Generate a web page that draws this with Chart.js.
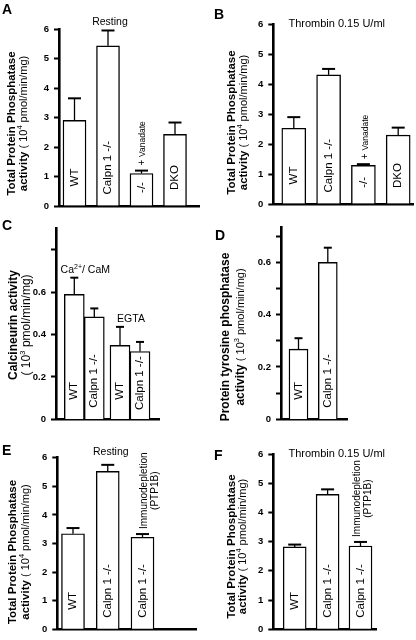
<!DOCTYPE html>
<html>
<head>
<meta charset="utf-8">
<script src="https://cdn.jsdelivr.net/npm/chart.js@4.4.0/dist/chart.umd.min.js"></script>
<style>
  html, body { margin: 0; padding: 0; background: #fff; }
  #fig { position: relative; width: 416px; height: 640px; overflow: hidden; }
  #fig canvas { position: absolute; left: 0; top: 0; }
</style>
</head>
<body>
<div id="fig">
  <canvas id="pA" width="416" height="640"></canvas>
  <canvas id="pB" width="416" height="640"></canvas>
  <canvas id="pC" width="416" height="640"></canvas>
  <canvas id="pD" width="416" height="640"></canvas>
  <canvas id="pE" width="416" height="640"></canvas>
  <canvas id="pF" width="416" height="640"></canvas>
</div>
<script>
// ---- data ----
const labelsA = ['WT', 'Calpn 1 -/-', '-/-', 'DKO'];
const restingA = [2.9, 5.43, 1.1, 2.43];
const restingErrA = [0.75, 0.52, 0.1, 0.4];

const labelsB = ['WT', 'Calpn 1 -/-', '-/-', 'DKO'];
const thrombinB = [2.53, 4.31, 1.29, 2.3];
const thrombinErrB = [0.37, 0.2, 0.04, 0.25];

const groupsC = ['Ca2+/ CaM', 'EGTA'];
const wtC = [0.589, 0.349];
const wtErrC = [0.079, 0.087];
const calpnC = [0.483, 0.32];
const calpnErrC = [0.04, 0.045];

const labelsD = ['WT', 'Calpn 1 -/-'];
const ptpD = [0.268, 0.6];
const ptpErrD = [0.042, 0.056];

const labelsE = ['WT', 'Calpn 1 -/-', 'Calpn 1 -/-'];
const restingE = [3.34, 5.52, 3.22];
const restingErrE = [0.2, 0.23, 0.11];

const labelsF = ['WT', 'Calpn 1 -/-', 'Calpn 1 -/-'];
const thrombinF = [2.82, 4.62, 2.85];
const thrombinErrF = [0.08, 0.17, 0.14];

const ticksTotal = [0, 1, 2, 3, 4, 5, 6];
const tickTextTotal = ['0', '1', '2', '3', '4', '5', '6'];
const ticksC = [0, 0.2, 0.4, 0.6, 0.8];
const tickTextC = ['0', '0.2', '0.4', '0.6', ''];
const ticksD = [0, 0.1, 0.2, 0.3, 0.4, 0.5, 0.6, 0.7];
const tickTextD = ['0', '', '0.2', '', '0.4', '', '0.6', ''];

// ---- drawing helpers ----
const FONT = "'Liberation Sans', Arial, Helvetica, sans-serif";
const f = (size, bold) => (bold ? 'bold ' : '') + size + 'px ' + FONT;

// runs: [text, font, rise]; rotated -90deg (reads bottom to top)
function vText(ctx, runs, cx, cy, anchor) {
  ctx.save();
  ctx.translate(cx, cy);
  ctx.rotate(-Math.PI / 2);
  ctx.textBaseline = 'middle';
  ctx.textAlign = 'left';
  ctx.fillStyle = '#000';
  let w = 0;
  runs.forEach(r => { ctx.font = r[1]; w += ctx.measureText(r[0]).width; });
  let x = anchor === 'start' ? 0 : -w / 2;
  runs.forEach(r => {
    ctx.font = r[1];
    ctx.fillText(r[0], x, -(r[2] || 0));
    x += ctx.measureText(r[0]).width;
  });
  ctx.restore();
  return w;
}

function hText(ctx, runs, cx, y) {
  ctx.save();
  ctx.textBaseline = 'alphabetic';
  ctx.textAlign = 'left';
  ctx.fillStyle = '#000';
  let w = 0;
  runs.forEach(r => { ctx.font = r[1]; w += ctx.measureText(r[0]).width; });
  let x = cx - w / 2;
  runs.forEach(r => {
    ctx.font = r[1];
    ctx.fillText(r[0], x, y - (r[2] || 0));
    x += ctx.measureText(r[0]).width;
  });
  ctx.restore();
}

function textWidth(ctx, s, font) { ctx.font = font; return ctx.measureText(s).width; }

const titleTotal = [
  [['Total Protein Phosphatase', f(11.5, true)]],
  [['activity', f(11.5, true)], [' ( 10', f(11)], ['4', f(7.5), 4], [' pmol/min/mg)', f(11)]],
];

function decoPlugin(p) {
  return {
    id: 'deco',
    afterDatasetsDraw(chart) {
      const ctx = chart.ctx, ys = chart.scales.y;
      ctx.save();
      ctx.strokeStyle = '#000';
      p.series.forEach((s, di) => {
        const meta = chart.getDatasetMeta(di);
        meta.data.forEach((bar, i) => {
          const top = ys.getPixelForValue(s.vals[i] + s.err[i]);
          ctx.lineWidth = 1.3;
          ctx.beginPath(); ctx.moveTo(bar.x, bar.y); ctx.lineTo(bar.x, top); ctx.stroke();
          ctx.lineWidth = 2;
          ctx.beginPath(); ctx.moveTo(bar.x - p.cap / 2, top); ctx.lineTo(bar.x + p.cap / 2, top); ctx.stroke();
          // rotated label inside the bar
          const name = s.names[i];
          const w = textWidth(ctx, name, f(11.5));
          const h = bar.base - bar.y;
          const off = Math.min(Math.max(28, w / 2 + 11), h / 2 + 2);
          vText(ctx, [[name, f(11.5)]], bar.x, bar.base - off);
        });
      });
      // panel letter
      ctx.fillStyle = '#000';
      ctx.font = f(14, true);
      ctx.textBaseline = 'alphabetic';
      ctx.textAlign = 'left';
      ctx.fillText(p.letter[0], p.letter[1], p.letter[2]);
      // y axis title, two lines
      vText(ctx, p.ytitle[0], p.ytitleX[0], p.ytitleY);
      vText(ctx, p.ytitle[1], p.ytitleX[1], p.ytitleY);
      if (p.extra) p.extra(ctx, chart);
      ctx.restore();
    }
  };
}

function errTop(chart, di, i, vals, err) {
  return chart.scales.y.getPixelForValue(vals[i] + err[i]);
}

function makePanel(id, p) {
  const sp = p.spacing;
  const xMin = 1 - (p.firstCenter - p.left) / sp;
  const xMax = xMin + (p.right - p.left) / sp;
  const AXW = 30;
  return new Chart(document.getElementById(id), {
    type: 'bar',
    data: {
      datasets: p.series.map(s => ({
        data: s.vals.map((v, i) => ({ x: i + 1, y: v })),
        backgroundColor: '#fff',
        borderColor: '#000',
        borderWidth: 1.4,
        barThickness: p.barW,
      })),
    },
    options: {
      responsive: false,
      animation: false,
      events: [],
      layout: { padding: { left: p.left - AXW, right: 416 - p.right, top: p.top, bottom: 640 - p.bottom } },
      plugins: { legend: { display: false }, tooltip: { enabled: false }, title: { display: false } },
      scales: {
        x: {
          type: 'linear', min: xMin, max: xMax, offset: false,
          ticks: { display: false },
          grid: { display: true, drawOnChartArea: false, drawTicks: false, offset: false },
          border: { display: true, color: '#000', width: 2.6 },
          afterFit: s => { s.height = 0; },
        },
        y: {
          min: 0, max: p.ymax,
          afterBuildTicks: s => { s.ticks = p.ticks.map(v => ({ value: v })); },
          afterFit: s => { s.width = AXW; },
          ticks: {
            autoSkip: false, padding: 5, color: '#000',
            font: { family: FONT, size: 9.5, weight: 'bold' },
            callback: (v, i) => p.tickText[i],
          },
          grid: { drawOnChartArea: false, drawTicks: true, tickLength: 5, tickWidth: 2, tickColor: '#000' },
          border: { display: true, color: '#000', width: 2.6 },
        },
      },
    },
    plugins: [decoPlugin(p)],
  });
}

// ---- A ----
makePanel('pA', {
  left: 59, right: 199, top: 29, bottom: 206, ymax: 6,
  firstCenter: 74.5, spacing: 33.5, barW: 23, cap: 13,
  ticks: ticksTotal, tickText: tickTextTotal,
  series: [{ vals: restingA, err: restingErrA, names: labelsA }],
  letter: ['A', 2, 14], ytitle: titleTotal, ytitleX: [11.5, 24], ytitleY: 123.5,
  extra(ctx, chart) {
    hText(ctx, [['Resting', f(10.5)]], 110, 25);
    const bar = chart.getDatasetMeta(0).data[2];
    const t = errTop(chart, 0, 2, restingA, restingErrA);
    vText(ctx, [['+ ', f(10)], ['Vanadate', f(8.5)]], bar.x + 1, t - 5, 'start');
  },
});

// ---- B ----
makePanel('pB', {
  left: 273.3, right: 413, top: 24.3, bottom: 204, ymax: 6,
  firstCenter: 293.8, spacing: 34.8, barW: 24, cap: 13,
  ticks: ticksTotal, tickText: tickTextTotal,
  series: [{ vals: thrombinB, err: thrombinErrB, names: labelsB }],
  letter: ['B', 214, 18.5], ytitle: titleTotal, ytitleX: [232, 244], ytitleY: 122.5,
  extra(ctx, chart) {
    hText(ctx, [['Thrombin 0.15 U/ml', f(11)]], 336.7, 27);
    const bar = chart.getDatasetMeta(0).data[2];
    const t = errTop(chart, 0, 2, thrombinB, thrombinErrB);
    vText(ctx, [['+ ', f(10)], ['Vanadate', f(8.5)]], bar.x + 2, t - 5, 'start');
  },
});

// ---- C ----
makePanel('pC', {
  left: 56, right: 159, top: 228.5, bottom: 419.3, ymax: 0.9,
  firstCenter: 84.3, spacing: 45.7, barW: 20, cap: 8,
  ticks: ticksC, tickText: tickTextC,
  series: [
    { vals: wtC, err: wtErrC, names: ['WT', 'WT'] },
    { vals: calpnC, err: calpnErrC, names: ['Calpn 1 -/-', 'Calpn 1 -/-'] },
  ],
  letter: ['C', 2, 230],
  ytitle: [
    [['Calcineurin activity', f(12, true)]],
    [['( 10', f(12)], ['3', f(8), 4], [' pmol/min/mg)', f(12)]],
  ],
  ytitleX: [13.3, 26.7], ytitleY: 325,
  extra(ctx, chart) {
    const xs = chart.scales.x;
    groupsC.forEach((g, i) => {
      const t = Math.min(errTop(chart, 0, i, wtC, wtErrC), errTop(chart, 1, i, calpnC, calpnErrC));
      const cx = xs.getPixelForValue(i + 1) + 1;
      if (g.startsWith('Ca2+')) {
        hText(ctx, [['Ca', f(10.5)], ['2+', f(7), 4], ['/ CaM', f(10.5)]], cx, t - 5);
      } else {
        hText(ctx, [[g, f(10.5)]], cx, t - 5);
      }
    });
  },
});

// ---- D ----
makePanel('pD', {
  left: 281, right: 347.7, top: 227.3, bottom: 419.3, ymax: 0.734,
  firstCenter: 298.5, spacing: 29.3, barW: 19, cap: 8,
  ticks: ticksD, tickText: tickTextD,
  series: [{ vals: ptpD, err: ptpErrD, names: labelsD }],
  letter: ['D', 215, 239.5],
  ytitle: [
    [['Protein tyrosine phosphatase', f(12, true)]],
    [['activity', f(12, true)], [' ( 10', f(11)], ['3', f(7.5), 4], [' pmol/min/mg)', f(11)]],
  ],
  ytitleX: [226, 241], ytitleY: 337,
});

// ---- E ----
function immuno(ctx, chart, vals, err, dx1, dx2) {
  const bar = chart.getDatasetMeta(0).data[2];
  const t = errTop(chart, 0, 2, vals, err);
  const w = textWidth(ctx, 'Immunodepletion', f(10));
  const cy = t - 5 - w / 2;
  vText(ctx, [['Immunodepletion', f(10)]], bar.x + dx1, cy);
  vText(ctx, [['(PTP1B)', f(10)]], bar.x + dx2, cy);
}

makePanel('pE', {
  left: 57.3, right: 196.7, top: 457.7, bottom: 634, ymax: 6,
  firstCenter: 73, spacing: 34.75, barW: 23, cap: 13,
  ticks: ticksTotal, tickText: tickTextTotal,
  series: [{ vals: restingE, err: restingErrE, names: labelsE }],
  letter: ['E', 2, 455], ytitle: titleTotal, ytitleX: [13.3, 25.7], ytitleY: 552,
  extra(ctx, chart) {
    hText(ctx, [['Resting', f(10.5)]], 110.8, 455);
    immuno(ctx, chart, restingE, restingErrE, 1.5, 12.5);
  },
});

// ---- F ----
makePanel('pF', {
  left: 273.3, right: 376.7, top: 454, bottom: 631.7, ymax: 6,
  firstCenter: 294.7, spacing: 32.9, barW: 23, cap: 13,
  ticks: ticksTotal, tickText: tickTextTotal,
  series: [{ vals: thrombinF, err: thrombinErrF, names: labelsF }],
  letter: ['F', 214, 460], ytitle: titleTotal, ytitleX: [231.7, 243.3], ytitleY: 546.5,
  extra(ctx, chart) {
    hText(ctx, [['Thrombin 0.15 U/ml', f(11)]], 336.7, 457);
    immuno(ctx, chart, thrombinF, thrombinErrF, -3.5, 8);
  },
});
</script>
</body>
</html>
